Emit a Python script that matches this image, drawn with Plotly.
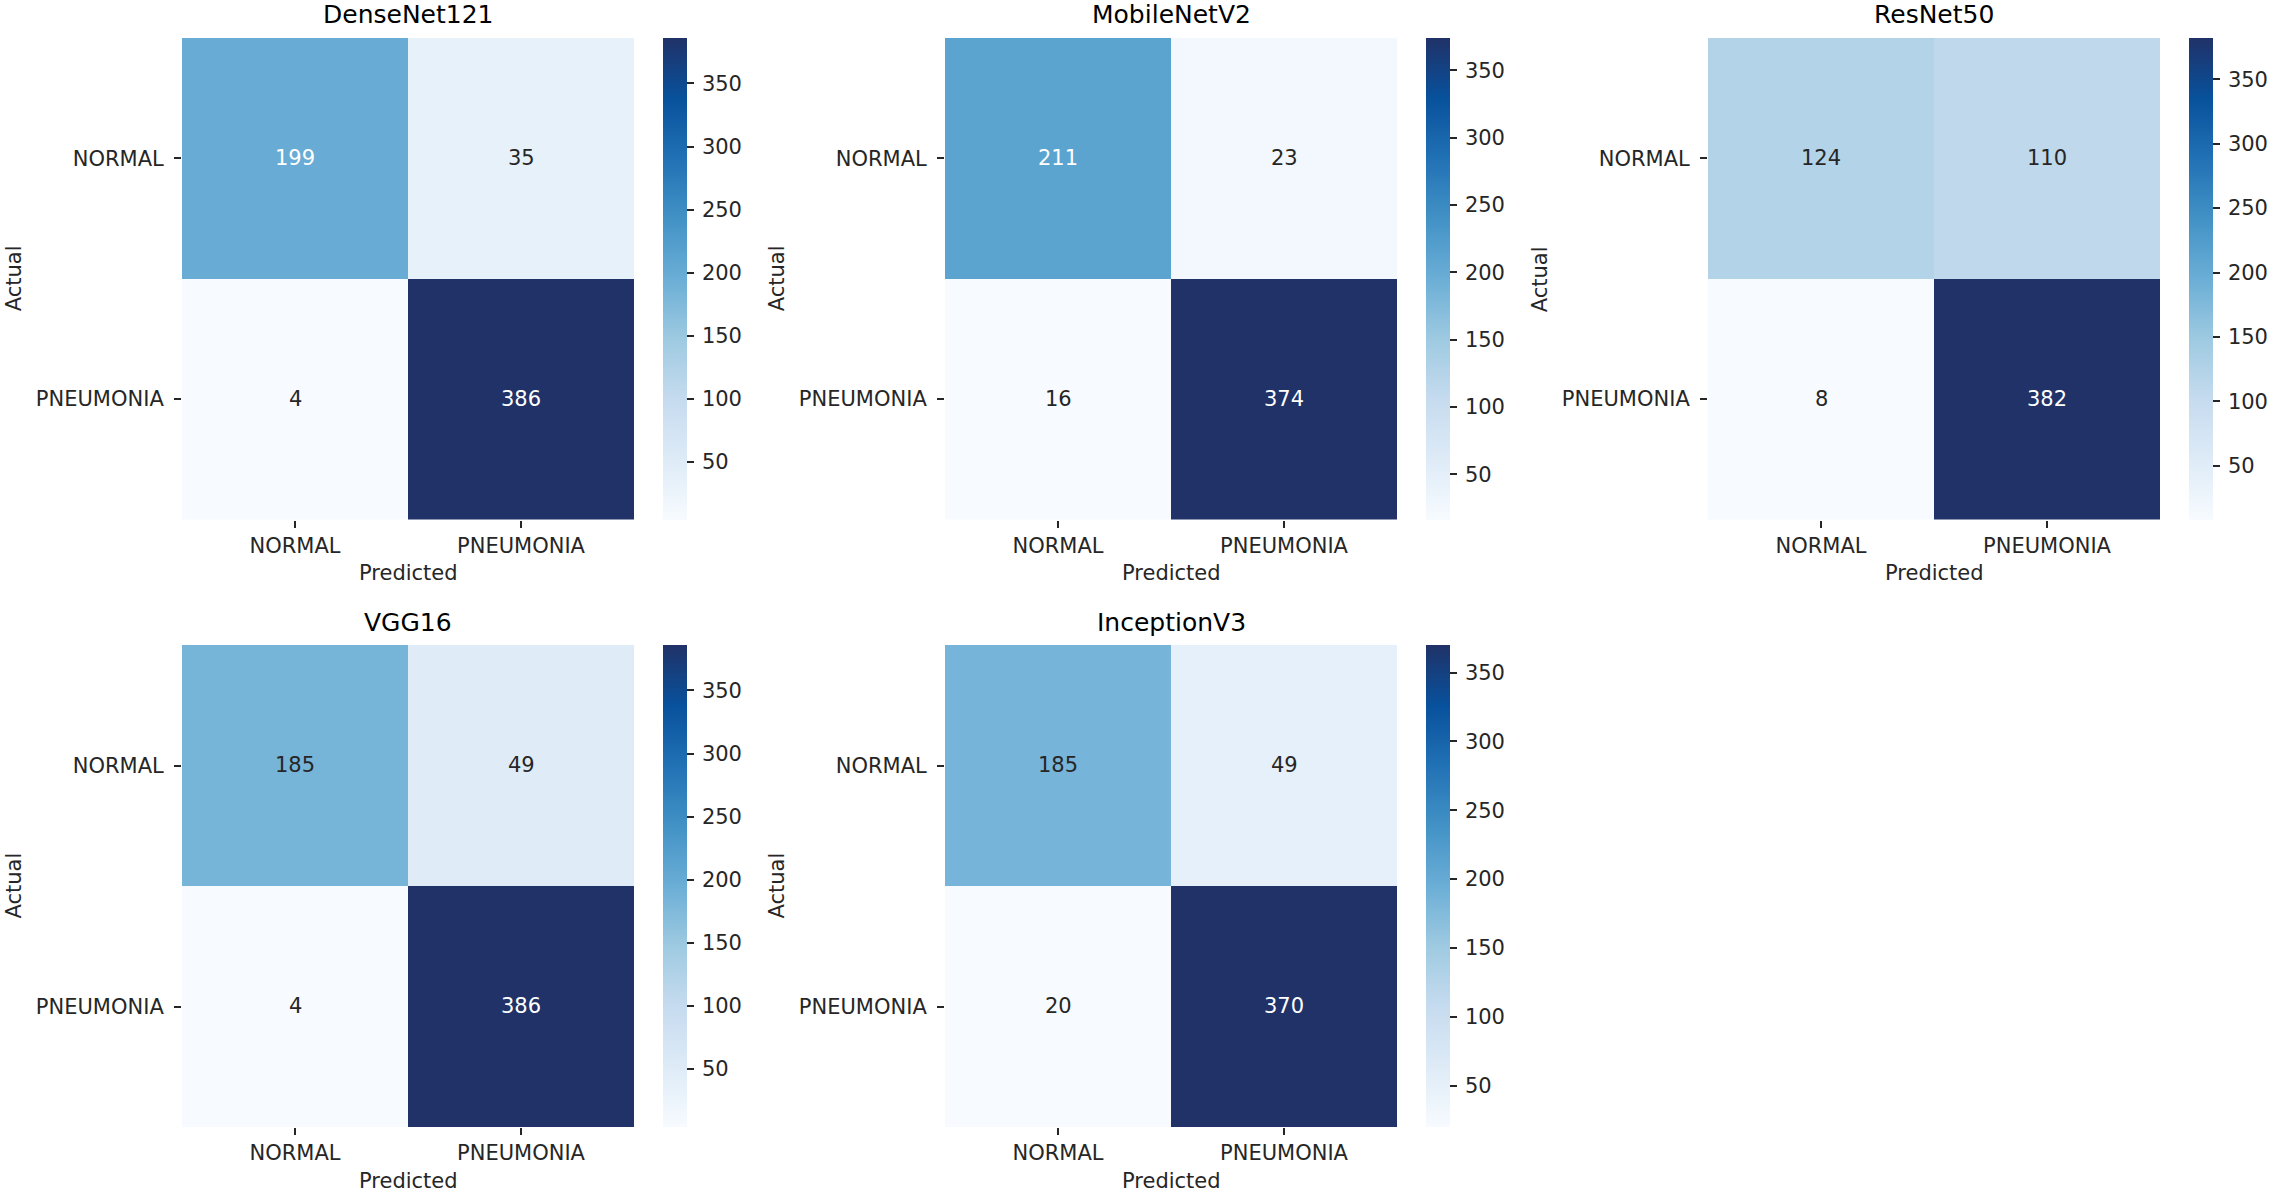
import plotly.graph_objects as go

# Confusion matrices (rows = actual, cols = predicted)
models = ["DenseNet121", "MobileNetV2", "ResNet50", "VGG16", "InceptionV3"]
classes = ["NORMAL", "PNEUMONIA"]
densenet121 = [[199, 35], [4, 386]]
mobilenetv2 = [[211, 23], [16, 374]]
resnet50 = [[124, 110], [8, 382]]
vgg16 = [[185, 49], [4, 386]]
inceptionv3 = [[185, 49], [20, 370]]
cbar_ticks = [50, 100, 150, 200, 250, 300, 350]

matrices = [densenet121, mobilenetv2, resnet50, vgg16, inceptionv3]

W, H = 2275, 1194
FONT = "DejaVu Sans"
TXT = "#262626"

# matplotlib "Blues"
blues = [
    [0.0, "rgb(247,251,255)"],
    [0.125, "rgb(222,235,247)"],
    [0.25, "rgb(198,219,239)"],
    [0.375, "rgb(158,202,225)"],
    [0.5, "rgb(107,174,214)"],
    [0.625, "rgb(66,146,198)"],
    [0.75, "rgb(33,113,181)"],
    [0.875, "rgb(8,81,156)"],
    [1.0, "rgb(32,50,104)"],
]

# pixel boxes of the heatmaps
col_px = [(182, 634), (945, 1397), (1708, 2160)]
row_px = [(38, 519.5), (645, 1127)]

fig = go.Figure()
annotations = []

for i, (name, z) in enumerate(zip(models, matrices)):
    r, c = divmod(i, 3)
    x0, x1 = col_px[c]
    y0, y1 = row_px[r]
    n = i + 1
    xa = "x" if n == 1 else f"x{n}"
    ya = "y" if n == 1 else f"y{n}"
    flat = [v for row in z for v in row]
    lo, hi = min(flat), max(flat)

    fig.add_trace(
        go.Heatmap(
            z=z,
            x=classes,
            y=classes,
            xaxis=xa,
            yaxis=ya,
            zmin=lo,
            zmax=hi,
            colorscale=blues,
            colorbar=dict(
                x=(x1 + 29) / W,
                xanchor="left",
                y=1 - y0 / H,
                yanchor="top",
                len=y1 - y0,
                lenmode="pixels",
                thickness=24,
                thicknessmode="pixels",
                xpad=0,
                ypad=0,
                outlinewidth=0,
                tickvals=cbar_ticks,
                ticktext=["\u2009" + str(t) for t in cbar_ticks],
                ticks="outside",
                ticklen=7,
                tickwidth=1.5,
                tickcolor=TXT,
                tickfont=dict(family=FONT, size=21, color=TXT),
            ),
            hoverinfo="skip",
        )
    )

    fig.update_layout(
        {
            f"xaxis{'' if n == 1 else n}": dict(
                domain=[x0 / W, x1 / W],
                anchor=ya,
                ticks="outside",
                ticklen=7,
                tickwidth=1.5,
                tickcolor=TXT,
                tickfont=dict(family=FONT, size=21, color=TXT),
                showgrid=False,
                zeroline=False,
                showline=False,
            ),
            f"yaxis{'' if n == 1 else n}": dict(
                domain=[1 - y1 / H, 1 - y0 / H],
                anchor=xa,
                autorange="reversed",
                ticks="outside",
                ticklen=7,
                tickwidth=1.5,
                tickcolor=TXT,
                ticklabelstandoff=6,
                tickfont=dict(family=FONT, size=21, color=TXT),
                showgrid=False,
                zeroline=False,
                showline=False,
            ),
        }
    )

    # cell values
    for ri, row in enumerate(z):
        for ci, v in enumerate(row):
            annotations.append(
                dict(
                    x=classes[ci],
                    y=classes[ri],
                    xref=xa,
                    yref=ya,
                    text=str(v),
                    showarrow=False,
                    font=dict(
                        family=FONT,
                        size=21,
                        color="white" if (v - lo) / (hi - lo) > 0.5 else TXT,
                    ),
                )
            )

    # title and axis labels
    annotations.append(
        dict(
            x=(x0 + x1) / 2 / W,
            y=1 - (y0 - 23) / H,
            xref="paper",
            yref="paper",
            text=name,
            showarrow=False,
            xanchor="center",
            yanchor="middle",
            font=dict(family=FONT, size=25, color="black"),
        )
    )
    annotations.append(
        dict(
            x=(x0 + x1) / 2 / W,
            y=1 - (y1 + 53.5) / H,
            xref="paper",
            yref="paper",
            text="Predicted",
            showarrow=False,
            xanchor="center",
            yanchor="middle",
            font=dict(family=FONT, size=21, color=TXT),
        )
    )
    annotations.append(
        dict(
            x=(x0 - 168.5) / W,
            y=1 - (y0 + y1) / 2 / H,
            xref="paper",
            yref="paper",
            text="Actual",
            showarrow=False,
            textangle=-90,
            xanchor="center",
            yanchor="middle",
            font=dict(family=FONT, size=21, color=TXT),
        )
    )

fig.update_layout(
    width=W,
    height=H,
    margin=dict(l=0, r=0, t=0, b=0),
    paper_bgcolor="white",
    plot_bgcolor="white",
    annotations=annotations,
    font=dict(family=FONT, color=TXT),
)

fig.write_html(
    "out.html",
    config={"displayModeBar": False},
    post_script="document.body.style.margin='0';",
)
